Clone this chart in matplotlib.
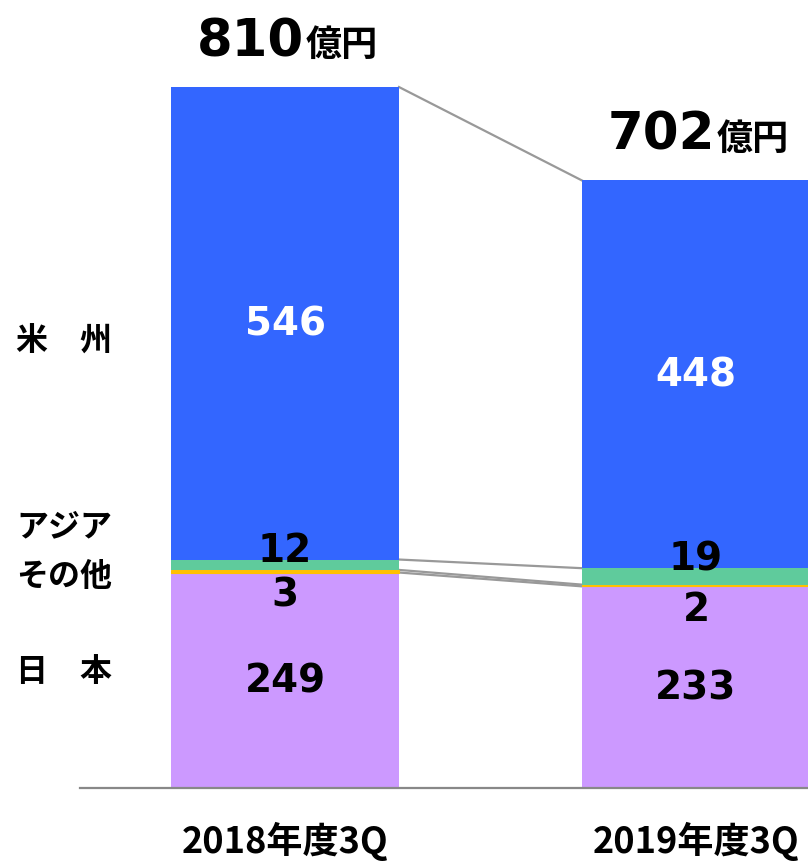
import matplotlib.pyplot as plt
import numpy as np

# データ
categories = ['2018年度3Q', '2019年度3Q']
japan = [249, 233]
misc = [3, 2]
asia = [12, 19]
americas = [546, 448]

region_labels = ['米　州', 'アジア', 'その他', '日　本']

col_japan = '#CC99FF'
col_misc = '#FFC000'
col_asia = '#5FCB9C'
col_americas = '#3366FF'

jp_font = ['Noto Sans CJK JP', 'DejaVu Sans']
num_font = ['DejaVu Sans']

fig = plt.figure(figsize=(8.08, 8.62), dpi=100)
px = 0.8654  # pixel per unit
ax = fig.add_axes([80 / 808, 73 / 862, 728 / 808, 789 / 862])
ax.set_ylim(0, 789 / px)
ax.set_xlim((80 - 285) / 411, (808 - 285) / 411)

x = np.arange(len(categories))
w = 228 / 411

japan = np.array(japan)
misc = np.array(misc)
asia = np.array(asia)
americas = np.array(americas)

b1 = japan
b2 = b1 + misc
b3 = b2 + asia
totals = b3 + americas

ax.bar(x, japan, w, color=col_japan, zorder=2)
ax.bar(x, misc, w, bottom=b1, color=col_misc, zorder=2, lw=0.8, edgecolor=col_misc)
ax.bar(x, asia, w, bottom=b2, color=col_asia, zorder=2)
ax.bar(x, americas, w, bottom=b3, color=col_americas, zorder=2)

# 接続線
for lev in [b1, b2, b3, totals]:
    ax.plot([x[0] + w / 2, x[1] - w / 2], [lev[0], lev[1]],
            color='#999999', lw=1.6, zorder=1)

# 数値ラベル
for i in range(len(x)):
    ax.text(x[i], b3[i] + americas[i] / 2, str(americas[i]), ha='center', va='center',
            color='white', fontsize=28, fontweight='bold', family=num_font)
    ax.text(x[i], japan[i] / 2, str(japan[i]), ha='center', va='center',
            color='black', fontsize=28, fontweight='bold', family=num_font)
    ax.annotate(str(asia[i]), (x[i], b3[i]), xytext=(0, 7), textcoords='offset points',
                ha='center', va='center', fontsize=28, fontweight='bold', family=num_font)
    ax.annotate(str(misc[i]), (x[i], b1[i]), xytext=(0, -16), textcoords='offset points',
                ha='center', va='center', fontsize=28, fontweight='bold', family=num_font)
    # 合計
    ax.annotate(str(totals[i]), (x[i], totals[i]), xytext=(14, 23), textcoords='offset points',
                ha='right', va='baseline', fontsize=37, fontweight='bold', family=num_font)
    ax.annotate('億円', (x[i], totals[i]), xytext=(15, 23), textcoords='offset points',
                ha='left', va='baseline', fontsize=26, fontweight='bold', family=jp_font)

# 軸
for s in ['top', 'right', 'left']:
    ax.spines[s].set_visible(False)
ax.spines['bottom'].set_color('#888888')
ax.spines['bottom'].set_linewidth(1.6)
ax.spines['bottom'].set_zorder(3)
ax.set_yticks([])
ax.set_xticks(x)
ax.set_xticklabels(categories, fontsize=26, fontweight='bold', family=jp_font)
ax.tick_params(axis='x', length=0, pad=24)

# 左側ラベル
ys = [342, 527, 577, 672]
for lab, yy in zip(region_labels, ys):
    fig.text(16 / 808, 1 - yy / 862, lab, ha='left', va='center', fontsize=23,
             fontweight='bold', family=jp_font)

fig.savefig('out.png', dpi=100)
